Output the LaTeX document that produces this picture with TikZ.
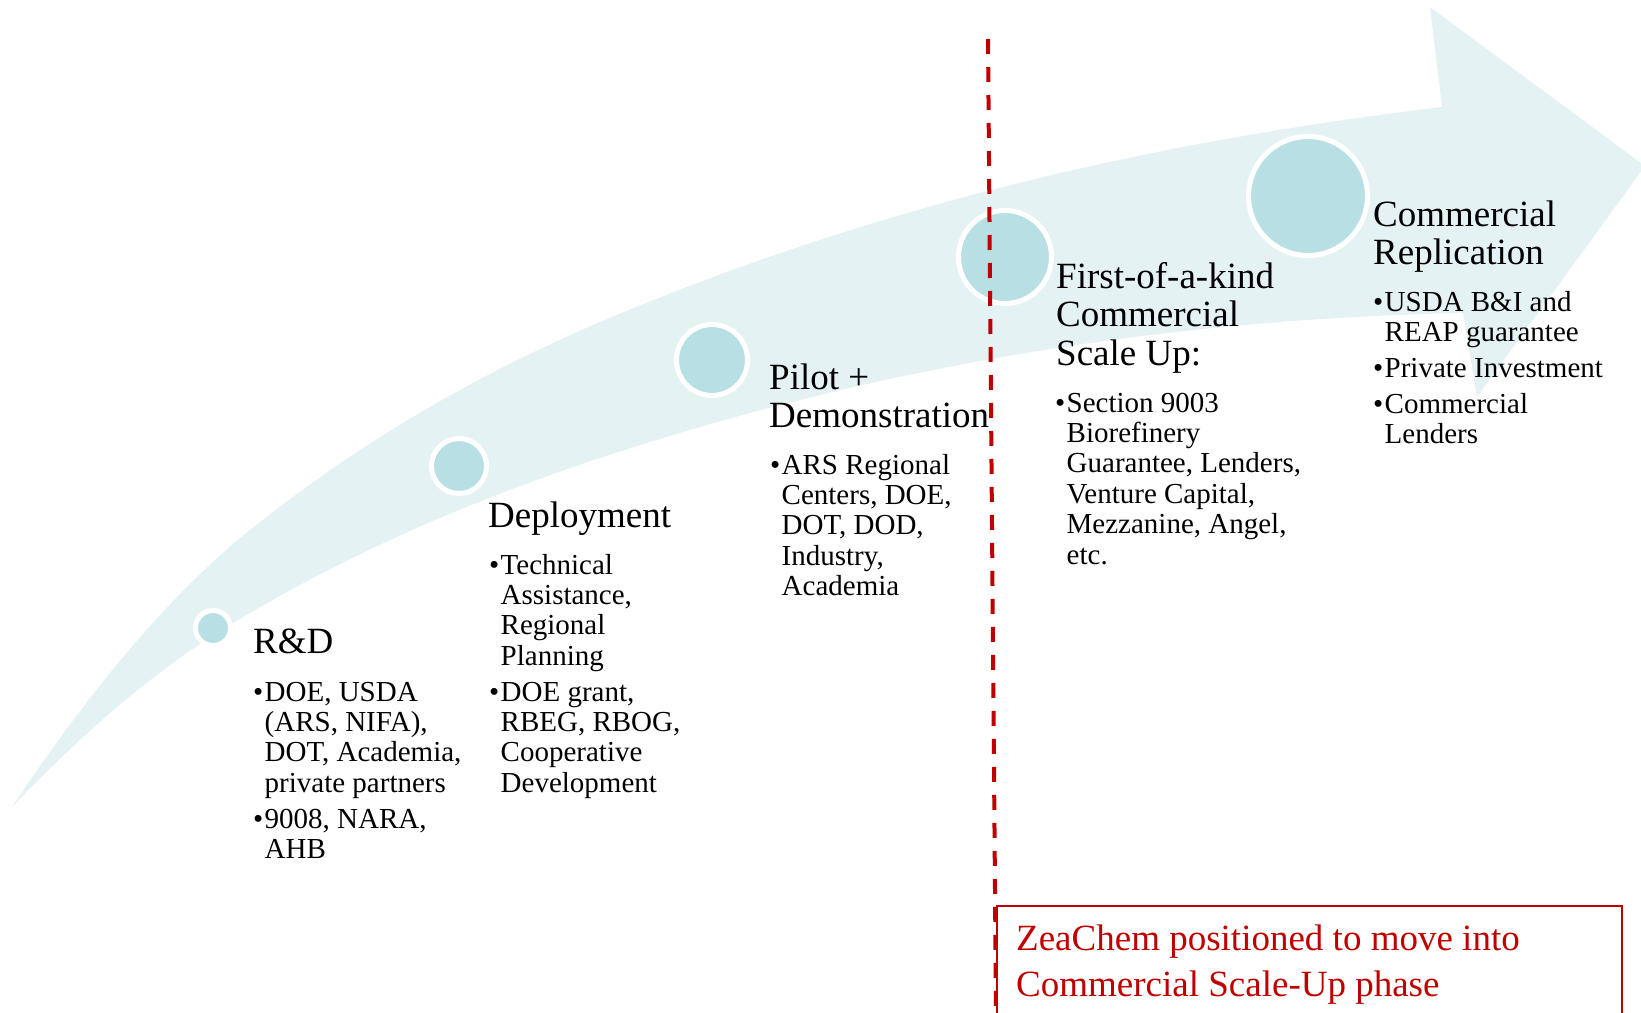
\documentclass[tikz,border=0pt]{standalone}
\usepackage{fontspec}
\setmainfont{Liberation Serif}
\definecolor{bandc}{RGB}{229,242,244}
\definecolor{circc}{RGB}{184,223,227}
\definecolor{zred}{RGB}{192,0,0}
\newlength\bulw
\setlength\bulw{11.5pt}
\newcommand\bitem[1]{\par\hangindent=\bulw\hangafter=1\noindent\makebox[\bulw][l]{•}#1\par}
\newcommand\igap{\vspace{5.5pt}}
\begin{document}
\begin{tikzpicture}[x=1pt,y=-1pt,
  stage/.style={circle, fill=circc, draw=white, line width=5pt, inner sep=0pt},
  head/.style={anchor=base west, inner sep=0pt, font=\fontsize{37}{38.5}\selectfont},
  body/.style={anchor=base west, inner sep=0pt, font=\fontsize{29}{30.4}\selectfont},
  divider/.style={draw=zred, line width=4pt, dash pattern=on 15pt off 13pt},
  note/.style={draw=zred, line width=1.5pt, anchor=north west, inner sep=0pt}]
\path[use as bounding box] (0,0) rectangle (1641,1012);
\clip (0,0) rectangle (1641,1012);
% band arrow
\fill[bandc] (12,807)
  .. controls (91,688.5) and (171,593) .. (250,530)
  .. controls (367,436.4) and (483,372.3) .. (600,322)
  .. controls (881,203) and (1161,140.7) .. (1442,107)
  -- (1430,7) -- (1645,166) -- (1477,397) -- (1463,313)
  .. controls (1175.3,318.8) and (887.7,363) .. (600,458)
  .. controls (477.7,498.4) and (355.3,549.6) .. (233,623)
  .. controls (159.3,667.2) and (85.7,729.6) .. (12,807) -- cycle;
% stage circles
\node[stage, minimum size=35pt] (c1) at (213,628) {};
\node[stage, minimum size=55pt] (c2) at (459,466) {};
\node[stage, minimum size=71pt] (c3) at (712,360) {};
\node[stage, minimum size=93pt] (c4) at (1005,257) {};
\node[stage, minimum size=119pt] (c5) at (1308,196) {};
% dashed divider
\coordinate (dtop) at (988,39);
\coordinate (dbot) at (996,1012);
\draw[divider] (dtop) -- (dbot);
% headings
\node[head] (h1) at (253,653) {\parbox[t]{300pt}{R\&D}};
\node[head] (h2) at (488,527) {\parbox[t]{300pt}{Deployment}};
\node[head] (h3) at (769,389) {\parbox[t]{300pt}{Pilot +\newline Demonstration}};
\node[head] (h4) at (1056,288) {\parbox[t]{300pt}{First-of-a-kind\newline Commercial\newline Scale Up:}};
\node[head] (h5) at (1373,226) {\parbox[t]{300pt}{Commercial\newline Replication}};
% bullet texts
\node[body] (b1) at (253,701) {\parbox[t]{300pt}{%
  \bitem{DOE, USDA\newline (ARS, NIFA),\newline DOT, Academia,\newline private partners}\igap
  \bitem{9008, NARA,\newline AHB}}};
\node[body] (b2) at (489,574) {\parbox[t]{300pt}{%
  \bitem{Technical\newline Assistance,\newline Regional\newline Planning}\igap
  \bitem{DOE grant,\newline RBEG, RBOG,\newline Cooperative\newline Development}}};
\node[body] (b3) at (770,474) {\parbox[t]{300pt}{%
  \bitem{ARS Regional\newline Centers, DOE,\newline DOT, DOD,\newline Industry,\newline Academia}}};
\node[body] (b4) at (1055,412) {\parbox[t]{300pt}{%
  \bitem{Section 9003\newline Biorefinery\newline Guarantee, Lenders,\newline Venture Capital,\newline Mezzanine, Angel,\newline etc.}}};
\node[body] (b5) at (1373,311) {\parbox[t]{300pt}{%
  \bitem{USDA B\&I and\newline REAP guarantee}\igap
  \bitem{Private Investment}\igap
  \bitem{Commercial\newline Lenders}}};
% note box
\node[note, minimum width=625pt, minimum height=130pt] (zbox) at (996,905) {};
\node[anchor=base west, inner sep=0pt, text=zred, font=\fontsize{37}{46.7}\selectfont] (ztext) at (1016,950)
  {\parbox[t]{600pt}{ZeaChem positioned to move into\newline Commercial Scale-Up phase}};
\end{tikzpicture}
\end{document}
